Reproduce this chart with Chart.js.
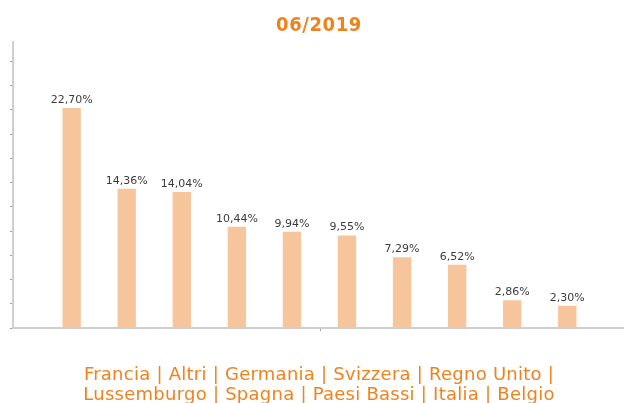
<!DOCTYPE html>
<html>
<head>
<meta charset="utf-8">
<script src="https://cdn.jsdelivr.net/npm/chart.js@4.4.0/dist/chart.umd.min.js"></script>
<style>
  html, body { margin: 0; padding: 0; background: #ffffff; }
  #wrap { position: relative; width: 624px; height: 403px; overflow: hidden; }
  #c { position: absolute; left: 0; top: 0; }
  #title {
    position: absolute; left: 0; top: 12px; width: 638px; text-align: center;
    font-family: "DejaVu Sans Condensed", "DejaVu Sans", sans-serif; font-weight: bold;
    font-size: 20px; line-height: 24px; letter-spacing: 0.6px; color: #F0821E;
  }
  #cats {
    position: absolute; left: 68px; top: 364px; width: 502px; text-align: center;
    font-family: "DejaVu Sans", Verdana, sans-serif; font-size: 18px; line-height: 20px;
    letter-spacing: 0.25px; color: #F0821E;
  }
</style>
</head>
<body>
<div id="wrap">
  <canvas id="c" width="624" height="403"></canvas>
  <div id="title"></div>
  <div id="cats"></div>
</div>
<script>
const chartTitle = "06/2019";
const categories = ["Francia", "Altri", "Germania", "Svizzera", "Regno Unito",
                    "Lussemburgo", "Spagna", "Paesi Bassi", "Italia", "Belgio"];
const values = [22.70, 14.36, 14.04, 10.44, 9.94, 9.55, 7.29, 6.52, 2.86, 2.30];
const yTicks = [0, 2.5, 5, 7.5, 10, 12.5, 15, 17.5, 20, 22.5, 25, 27.5];
const yMax = 29.5;

document.getElementById('title').textContent = chartTitle;
document.getElementById('cats').textContent = categories.join(" | ");

const fmt = v => v.toFixed(2).replace('.', ',') + '%';

const labelPlugin = {
  id: 'barLabels',
  afterDatasetsDraw(chart) {
    const ctx = chart.ctx;
    const meta = chart.getDatasetMeta(0);
    ctx.save();
    ctx.font = '11px "DejaVu Sans", Verdana, sans-serif';
    ctx.fillStyle = '#3c3c3c';
    ctx.textAlign = 'center';
    ctx.textBaseline = 'alphabetic';
    meta.data.forEach((bar, i) => {
      ctx.fillText(fmt(values[i]), bar.x, bar.y - 5);
    });
    ctx.restore();
  }
};

new Chart(document.getElementById('c'), {
  type: 'bar',
  data: {
    datasets: [{
      label: chartTitle,
      data: values.map((v, i) => ({ x: i, y: v })),
      backgroundColor: '#F6C59B',
      borderWidth: 0,
      barPercentage: 0.333,
      categoryPercentage: 1.0
    }]
  },
  options: {
    responsive: false,
    animation: false,
    layout: { padding: { left: 10, right: 0, top: 42, bottom: 72 } },
    plugins: { legend: { display: false }, title: { display: false }, tooltip: { enabled: false } },
    scales: {
      x: {
        type: 'linear',
        offset: false,
        min: -1.065,
        max: 10.03,
        afterBuildTicks: s => { s.ticks = [{ value: (s.min + s.max) / 2 + 0.03 }]; },
        ticks: { display: false },
        grid: { offset: false, drawOnChartArea: false, drawTicks: true, tickLength: 3, tickColor: '#a0a0a0' },
        border: { display: true, color: '#cfcfcf', width: 2 }
      },
      y: {
        min: 0,
        max: yMax,
        afterBuildTicks: s => { s.ticks = yTicks.map(v => ({ value: v })); },
        ticks: { display: false },
        grid: { drawOnChartArea: false, drawTicks: true, tickLength: 3, tickColor: '#a0a0a0' },
        border: { display: true, color: '#cfcfcf', width: 2 }
      }
    }
  },
  plugins: [labelPlugin]
});
</script>
</body>
</html>
